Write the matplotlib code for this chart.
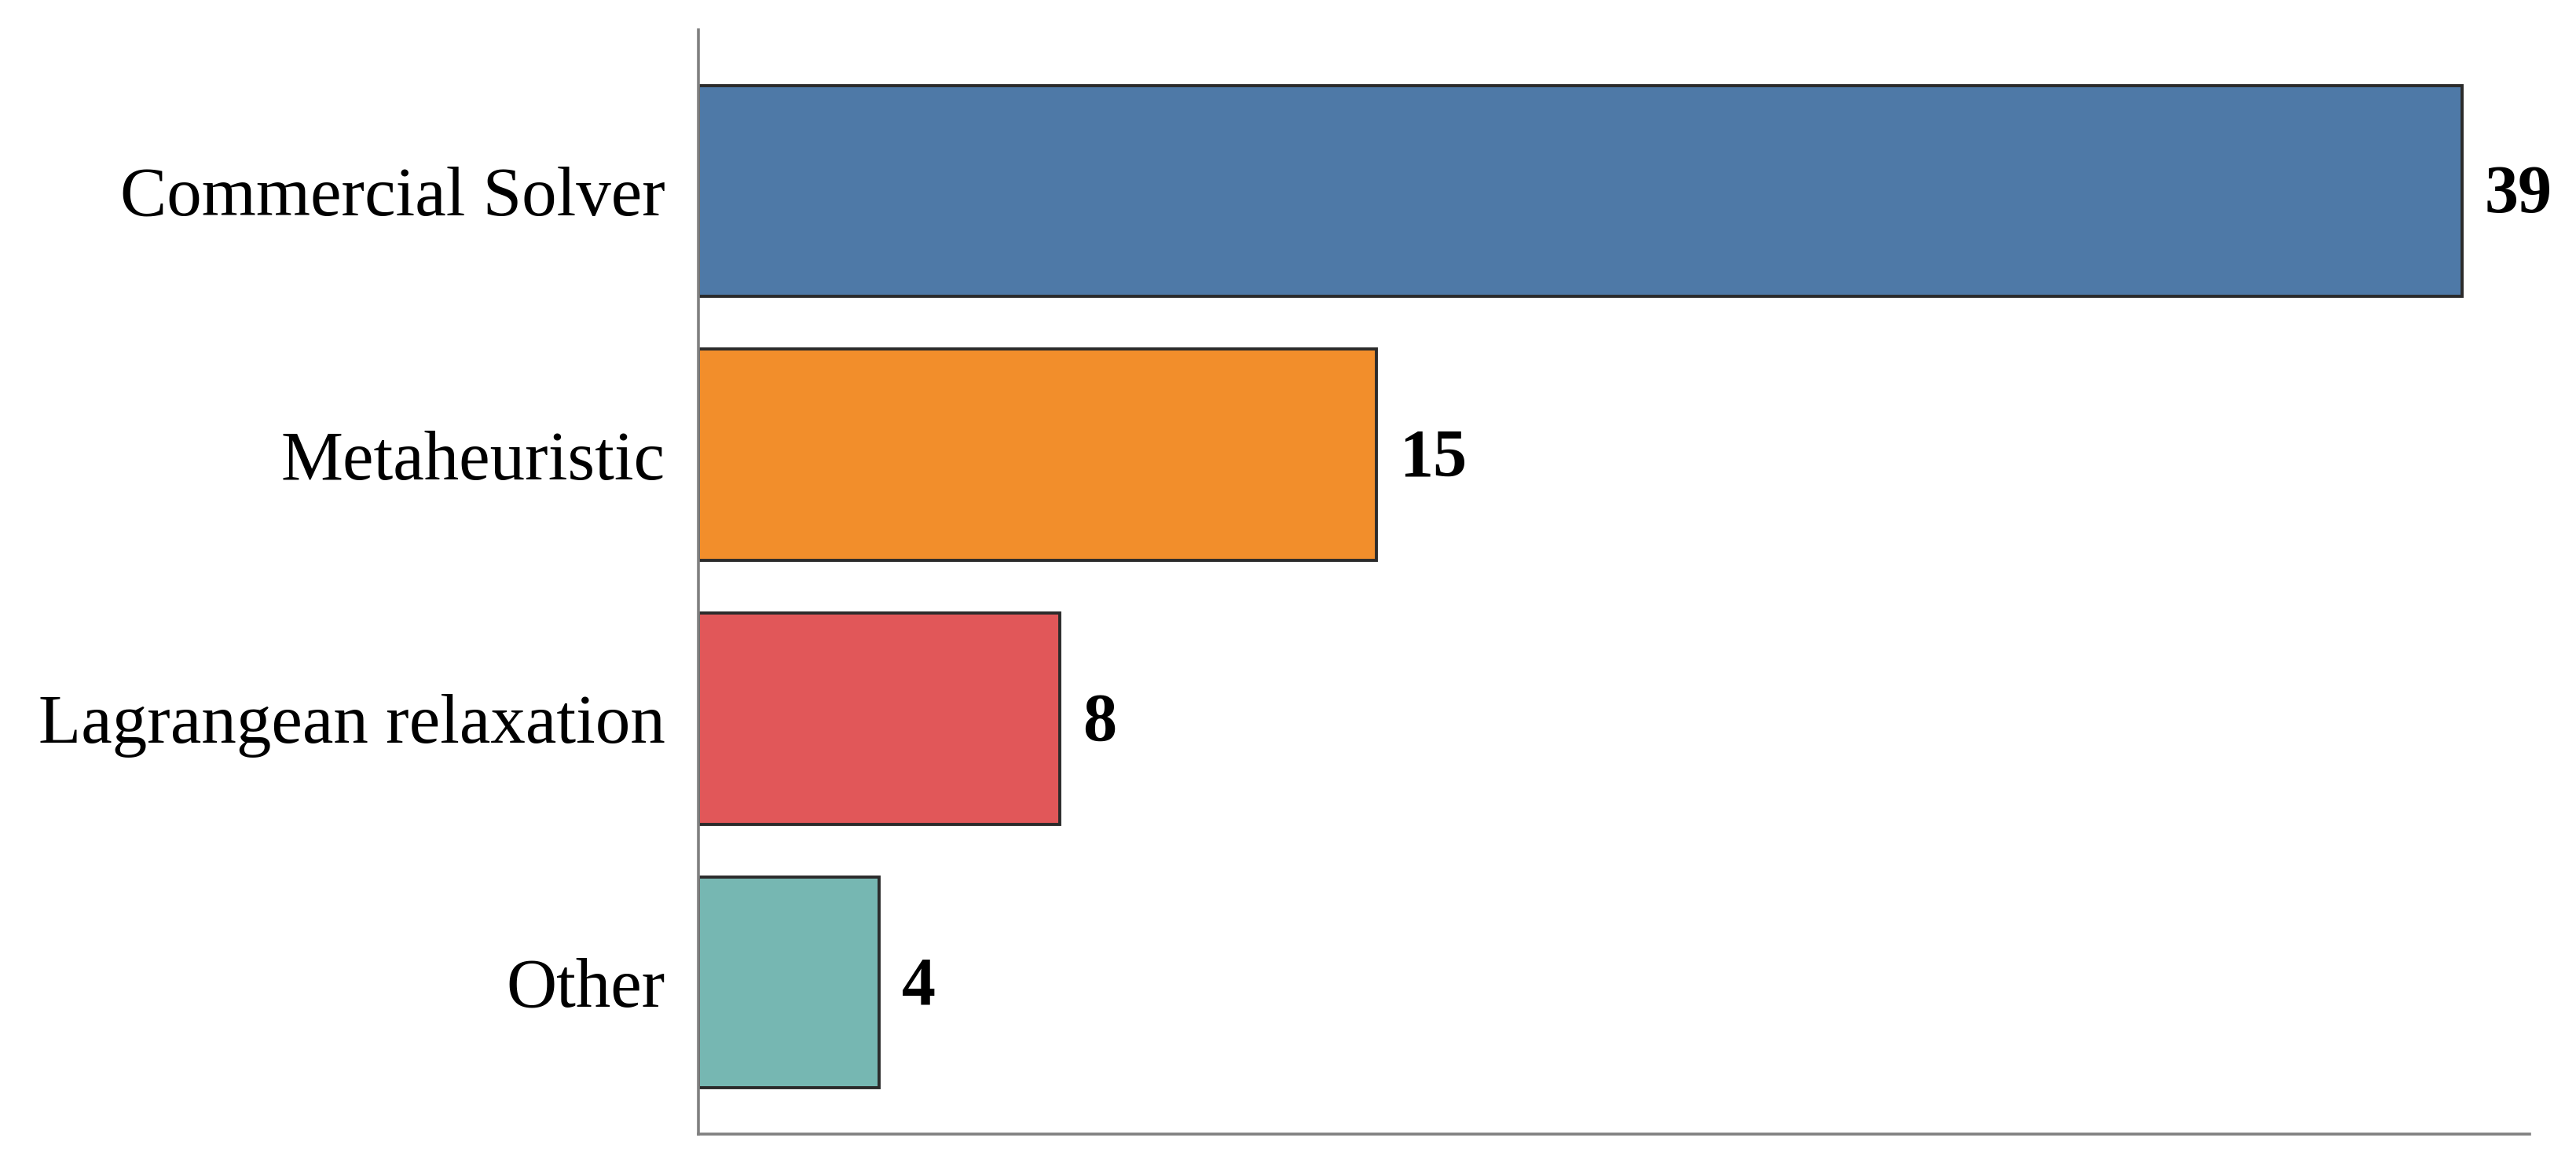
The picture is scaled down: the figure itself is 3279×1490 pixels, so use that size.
import matplotlib
matplotlib.use('Agg')
import matplotlib.pyplot as plt

# solution approaches, counts
categories = ['Commercial Solver', 'Metaheuristic', 'Lagrangean relaxation', 'Other']
counts = [39, 15, 8, 4]
bar_colors = ['#4E79A7', '#F28E2B', '#E15759', '#76B7B2']

plt.rcParams['font.family'] = ['Liberation Serif', 'DejaVu Serif']

fig = plt.figure(figsize=(32.79, 14.90), dpi=100)
ax = fig.add_axes([0.271, 0.0315, 0.711, 0.943])

ypos = list(range(len(categories)))
ax.barh(ypos, counts, height=0.8, color=bar_colors,
        edgecolor='#2b2b2b', linewidth=2.8)

for y, v in zip(ypos, counts):
    ax.text(v + 0.5, y + 0.02, str(v), va='center', ha='left',
            fontsize=62, fontweight='bold', color='black')

ax.set_yticks(ypos)
ax.set_yticklabels(categories, fontsize=64)
for lab in ax.get_yticklabels():
    lab.set_va('center_baseline')
ax.tick_params(axis='y', length=0, pad=30)
ax.set_xticks([])

ax.set_xlim(0, 40.5)
ax.set_ylim(3.575, -0.61)

for s in ['top', 'right']:
    ax.spines[s].set_visible(False)
for s in ['left', 'bottom']:
    ax.spines[s].set_color('#808080')
    ax.spines[s].set_linewidth(2.6)

fig.savefig('out.png', dpi=100)
